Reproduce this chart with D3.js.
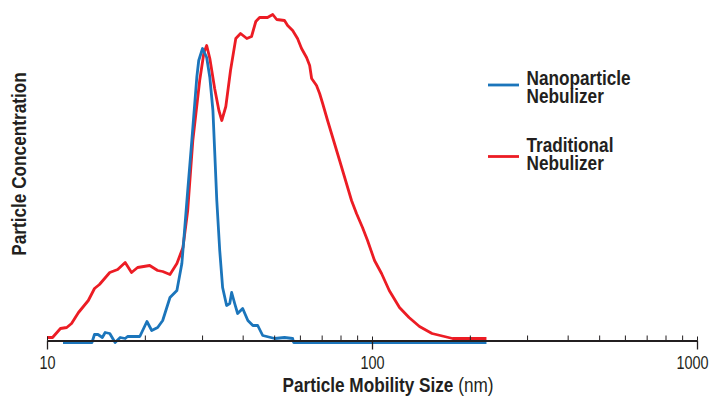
<!DOCTYPE html>
<html>
<head>
<meta charset="utf-8">
<script src="https://cdn.jsdelivr.net/npm/d3@7"></script>
<style>
  body { margin: 0; background: #fff; }
  svg { display: block; font-family: "Liberation Sans", Arial, sans-serif; }
  .axis text { font-size: 19px; fill: #231f20; font-family: "Liberation Sans", Arial, sans-serif; }
  .axis path, .axis line { stroke: #231f20; }
</style>
</head>
<body>
<div id="chart"></div>
<script>
// particle size (nm) and concentration (arbitrary units)
const tradSize = [10.0, 10.4, 11.0, 11.5, 11.9, 12.5, 13.4, 14.0, 14.5, 15.6, 16.5, 17.4, 18.2, 19.0, 20.7, 21.9, 22.7, 23.9, 25.1, 26.2,
  27.1, 28.1, 29.5, 30.4, 31.0, 31.7, 32.8, 33.8, 34.5, 35.5, 36.7, 38.1, 39.4, 41.2, 42.6, 43.9, 45.1, 47.7, 49.5, 50.9,
  53.8, 55.0, 57.0, 59.0, 60.7, 62.9, 64.3, 65.2, 67.5, 69.0, 70.5, 73.0, 79.5, 86.5, 89.6, 93.5, 96.9, 101.8, 107, 113,
  121.5, 130, 140, 153, 177, 225];
const tradConc = [5, 5, 14, 15, 19, 30, 42, 54, 58, 70, 73, 80, 70, 75, 77, 72, 71, 68, 79, 95,
  132, 202, 262, 290, 297, 284, 254, 232, 222, 236, 272, 304, 309, 304, 306, 321, 325, 325, 328, 323,
  322, 317, 312, 304, 294, 285, 277, 264, 257, 249, 239, 222, 182, 142, 129, 115, 102, 82, 69, 52,
  35, 25, 16, 9, 4, 4];

const nanoSize = [11.2, 13.75, 14.0, 14.35, 14.8, 15.1, 15.6, 16.2, 16.8, 17.4, 17.7, 19.3, 20.3, 21.0, 21.9, 22.7, 23.9, 25.1, 26.0, 26.5,
  27.1, 27.9, 28.9, 29.3, 30.1, 31.0, 31.7, 32.4, 32.8, 33.3, 34.0, 34.7, 35.7, 36.5, 37.0, 37.8, 38.6, 40.0, 41.5, 43.0,
  44.5, 46.1, 50.2, 53.8, 57.0, 57.4, 225];
const nanoConc = [0, 0, 8, 8, 5, 10, 9, 0, 5, 4, 6, 6, 21, 12, 15, 22, 45, 52, 79, 112,
  152, 202, 265, 282, 294, 285, 265, 232, 192, 142, 92, 55, 37, 39, 50, 39, 29, 34, 22, 17,
  17, 7, 4, 5, 4, 0, 0];

const majorTicks = [10, 100, 1000];
const minorTicks = [20, 30, 40, 50, 60, 70, 80, 90, 200, 300, 400, 500, 600, 700, 800, 900];

const seriesNames = ["Nanoparticle Nebulizer", "Traditional Nebulizer"];
const colors = ["#1b75bb", "#ec1c24"];

const width = 709, height = 399;
const ink = "#231f20";
const narrow = 0.86;   // no condensed face installed, squeeze the regular one

const svg = d3.select("#chart").append("svg")
  .attr("width", width).attr("height", height);

const x = d3.scaleLog().domain([10, 1000]).range([47, 697]);
const y = d3.scaleLinear().domain([0, 330]).range([342.5, 12.5]);
const axisY = y(0) - 2;

const series = [
  { name: seriesNames[0], color: colors[0], pts: nanoSize.map((s, i) => [s, nanoConc[i]]) },
  { name: seriesNames[1], color: colors[1], pts: tradSize.map((s, i) => [s, tradConc[i]]) }
];

const line = d3.line().x(d => x(d[0])).y(d => y(d[1]));

svg.append("path")
  .attr("d", line(series[1].pts))
  .attr("fill", "none").attr("stroke", series[1].color)
  .attr("stroke-width", 2.8).attr("stroke-linejoin", "round");
svg.append("path")
  .attr("d", line(series[0].pts))
  .attr("fill", "none").attr("stroke", series[0].color)
  .attr("stroke-width", 2.8).attr("stroke-linejoin", "round");

// minor ticks point up
svg.append("g").attr("class", "axis")
  .attr("transform", `translate(0,${axisY})`)
  .call(d3.axisTop(x).tickValues(minorTicks).tickSize(5).tickSizeOuter(0).tickFormat(""))
  .call(g => g.select(".domain").remove());
svg.append("g").attr("class", "axis")
  .attr("transform", `translate(0,${axisY})`)
  .call(d3.axisTop(x).tickValues(majorTicks).tickSize(4).tickSizeOuter(0).tickFormat(""))
  .call(g => g.select(".domain").remove());

// major ticks and labels
const xAxis = svg.append("g").attr("class", "axis")
  .attr("transform", `translate(0,${axisY})`)
  .call(d3.axisBottom(x).tickValues(majorTicks).tickSize(9).tickSizeOuter(0)
    .tickPadding(6).tickFormat(d3.format("d")));
xAxis.select(".domain").attr("stroke-width", 2);
xAxis.selectAll(".tick line").attr("stroke-width", 1.3);
xAxis.selectAll(".tick text")
  .attr("transform", "scale(0.76,1)")
  .filter(d => d === 1000)
  .attr("text-anchor", "end")
  .attr("x", 11 / 0.76);

function squeezed(parent, tx, ty, rot) {
  return parent.append("g")
    .attr("transform", `translate(${tx},${ty}) rotate(${rot}) scale(${narrow},1)`)
    .append("text").attr("fill", ink);
}

// axis titles
const xt = squeezed(svg, 388, 392, 0)
  .attr("text-anchor", "middle").attr("font-size", 20);
xt.append("tspan").attr("font-weight", "bold").text("Particle Mobility Size");
xt.append("tspan").text(" (nm)");

squeezed(svg, 26, 164, -90)
  .attr("text-anchor", "middle").attr("font-size", 20).attr("font-weight", "bold")
  .text("Particle Concentration");

// legend
const legendRows = [85, 156.5];
const legendText = [[85, 102.7], [152, 170]];
series.forEach((s, i) => {
  const g = svg.append("g");
  g.append("line")
    .attr("x1", 488).attr("x2", 519)
    .attr("y1", legendRows[i]).attr("y2", legendRows[i])
    .attr("stroke", s.color).attr("stroke-width", 2.8);
  s.name.split(" ").forEach((w, k) => {
    squeezed(g, 526.5, legendText[i][k], 0)
      .attr("font-size", 20).attr("font-weight", "bold")
      .text(w);
  });
});
</script>
</body>
</html>
